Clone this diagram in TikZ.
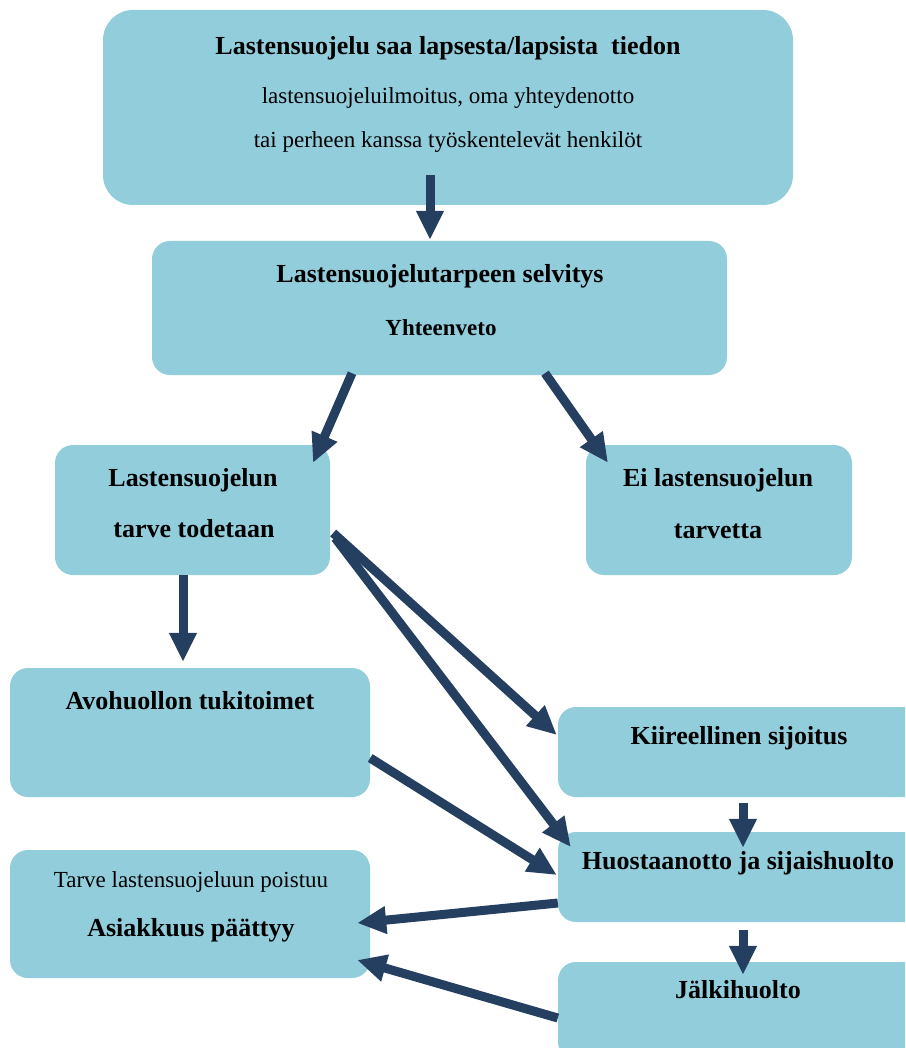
\documentclass[tikz,border=0pt]{standalone}
\usepackage{fontspec}
\setmainfont{Liberation Serif}
\usepackage{tikz}
\usetikzlibrary{calc,positioning,arrows.meta}

\definecolor{boxfill}{HTML}{92CDDC}
\definecolor{arrowdark}{HTML}{243F60}

\begin{document}
\begin{tikzpicture}[
	x=1pt, y=-1pt,
	box/.style={fill=boxfill, rounded corners=18pt, inner sep=0pt},
	head/.style={anchor=base, inner sep=0pt, font=\fontsize{26}{30}\selectfont\bfseries},
	sub/.style={anchor=base, inner sep=0pt, font=\fontsize{23}{27}\selectfont},
	flow/.style={draw=arrowdark, line width=9pt, -{Triangle[length=29pt,width=26pt]}}
  ]

  \useasboundingbox (0,0) rectangle (905,1048);
  \clip (0,0) rectangle (905,1048);

  % boxes
  \node[box, rounded corners=30pt, minimum width=690pt, minimum height=195pt] (intake) at (448,107.5) {};
  \node[box, minimum width=575pt, minimum height=134pt] (survey)  at (439.5,308) {};
  \node[box, minimum width=275pt, minimum height=130pt] (need)    at (192.5,510) {};
  \node[box, minimum width=266pt, minimum height=130pt] (noneed)  at (719,510) {};
  \node[box, minimum width=360pt, minimum height=129pt] (openc)   at (190,732.5) {};
  \node[box, minimum width=360pt, minimum height=128pt] (closing) at (190,914) {};
  \node[box, minimum width=372pt, minimum height=90pt]  (urgent)  at (744,752) {};
  \node[box, minimum width=372pt, minimum height=90pt]  (custody) at (744,877) {};
  \node[box, minimum width=372pt, minimum height=98pt]  (after)   at (744,1011) {};

  % texts
  \node[head] (intaketitle) at (448,55)  {Lastensuojelu saa lapsesta/lapsista\ \ tiedon};
  \node[sub]  (intakeone)   at (448,104) {lastensuojeluilmoitus, oma yhteydenotto};
  \node[sub]  (intaketwo)   at (448,148) {tai perheen kanssa työskentelevät henkilöt};

  \node[head] (surveytitle) at (440,283) {Lastensuojelutarpeen selvitys};
  \node[sub, font=\fontsize{23}{27}\selectfont\bfseries] (surveysub) at (441,335) {Yhteenveto};

  \node[head] (needone) at (193,486) {Lastensuojelun};
  \node[head] (needtwo) at (194,537) {tarve todetaan};

  \node[head] (noneedone) at (718,486) {Ei lastensuojelun};
  \node[head] (noneedtwo) at (718,538) {tarvetta};

  \node[head] (opentitle) at (190,709) {Avohuollon tukitoimet};

  \node[sub]  (closingone) at (191,887) {Tarve lastensuojeluun poistuu};
  \node[head] (closingtwo) at (191,936) {Asiakkuus päättyy};

  \node[head] (urgenttitle)  at (739,744) {Kiireellinen sijoitus};
  \node[head] (custodytitle) at (738,869) {Huostaanotto ja sijaishuolto};
  \node[head] (aftertitle)   at (738,998) {Jälkihuolto};

  % arrows
  \draw[flow] ([xshift=-18pt,yshift=30pt]intake.south) -- ([xshift=-9.5pt,yshift=1pt]survey.north);
  \draw[flow] ([xshift=-87.5pt,yshift=2pt]survey.south) -- ([xshift=120.5pt,yshift=-18pt]need.north);
  \draw[flow] ([xshift=105.5pt,yshift=2pt]survey.south) -- ([xshift=-111pt,yshift=-18pt]noneed.north);
  \draw[flow] ([xshift=-9.5pt]need.south) -- ([xshift=-7pt,yshift=6pt]openc.north);
  \draw[flow] ([xshift=3pt,yshift=-23pt]need.east) -- ([xshift=-1pt,yshift=17pt]urgent.west);
  \draw[flow] ([xshift=5pt,yshift=-28pt]need.east) -- ([xshift=13pt,yshift=30pt]custody.west);
  \draw[flow] ([yshift=-25.5pt]openc.east) -- ([xshift=-1pt,yshift=2pt]custody.west);
  \draw[flow] ([xshift=-1pt,yshift=-6pt]urgent.south) -- ([xshift=-1pt,yshift=-16pt]custody.north);
  \draw[flow] ([xshift=-1pt,yshift=-8pt]custody.south) -- ([xshift=-1pt,yshift=-13pt]after.north);
  \draw[flow] ([yshift=-26pt]custody.west) -- ([xshift=-13pt,yshift=-9pt]closing.east);
  \draw[flow] ([yshift=-7pt]after.west) -- ([xshift=-13pt,yshift=-46pt]closing.east);

\end{tikzpicture}
\end{document}
